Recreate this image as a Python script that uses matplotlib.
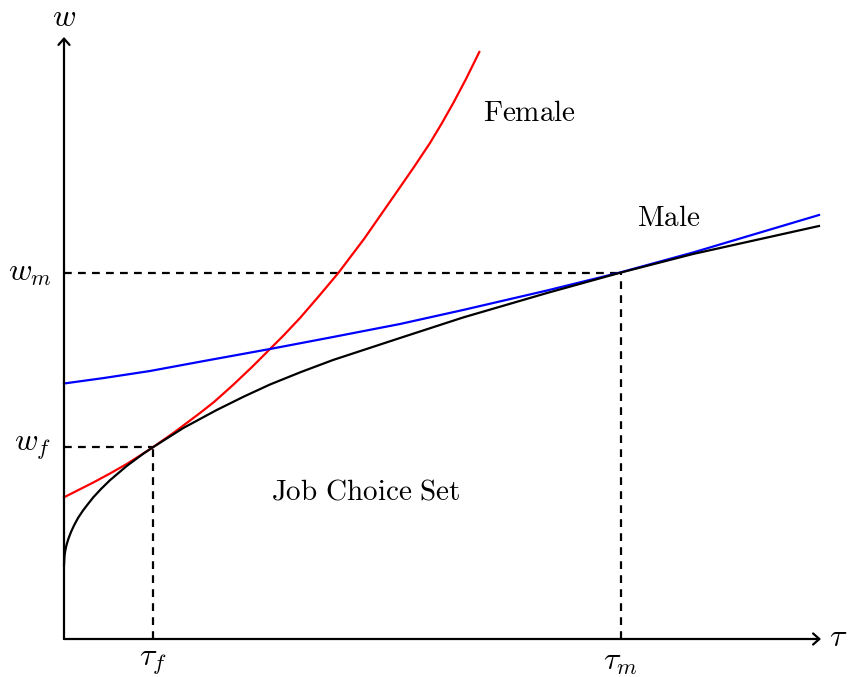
#!/usr/bin/env python3
"""Job choice set diagram: wage w against tau, female / male indifference curves."""

import matplotlib
matplotlib.use("Agg")
import matplotlib.pyplot as plt

plt.rcParams["mathtext.fontset"] = "cm"

# frontier of the job choice set (black)
choice_tau = [0, 0.005, 0.012, 0.025, 0.045, 0.07, 0.1, 0.14, 0.19, 0.24, 0.293,
              0.37, 0.46, 0.627, 0.793, 0.893, 1.193, 1.527, 1.8, 2.06, 2.37,
              2.69, 3.36, 3.99, 4.83, 5.57, 6.29, 7.55]
choice_w   = [0.74, 0.83, 0.88, 0.94, 1.005, 1.07, 1.135, 1.21, 1.285, 1.35, 1.417,
              1.50, 1.588, 1.73, 1.853, 1.92, 2.11, 2.29, 2.425, 2.545, 2.67,
              2.79, 3.01, 3.215, 3.46, 3.665, 3.85, 4.13]

# female curve (red)
female_tau = [0, 0.293, 0.46, 0.627, 0.793, 0.893, 1.1, 1.36, 1.5, 1.69, 1.88,
              2.06, 2.2, 2.36, 2.55, 2.743, 3.0, 3.327, 3.5, 3.66, 3.78, 3.893,
              4.02, 4.153]
female_w   = [1.417, 1.565, 1.655, 1.75, 1.855, 1.92, 2.065, 2.26, 2.37, 2.54, 2.72,
              2.90, 3.04, 3.21, 3.43, 3.66, 4.0, 4.47, 4.72, 4.96, 5.16, 5.36,
              5.6, 5.87]

# male curve (blue)
male_tau = [0, 0.4, 0.86, 1.4, 2.06, 2.69, 3.36, 3.99, 4.83, 5.56, 6.29, 7.55]
male_w   = [2.555, 2.61, 2.68, 2.78, 2.90, 3.02, 3.15, 3.29, 3.485, 3.665, 3.865, 4.24]

# chosen jobs
tau_f, w_f = 0.893, 1.92
tau_m, w_m = 5.57, 3.665

X_MAX, Y_MAX = 7.57, 6.02

LW = 1.6
DASH = (0, (3.5, 2.8))

fig = plt.figure(figsize=(8.49, 6.77), dpi=100)
ax = fig.add_axes([0, 0, 1, 1])
ax.set_xlim(-0.64, 7.85)
ax.set_ylim(-0.38, 6.39)
ax.axis("off")

# axes with open arrow heads
arrow = dict(arrowstyle="->,head_length=0.45,head_width=0.4", lw=LW,
             color="black", shrinkA=0, shrinkB=0)
ax.annotate("", xy=(X_MAX, 0), xytext=(0, 0), arrowprops=arrow)
ax.annotate("", xy=(0, Y_MAX), xytext=(0, 0), arrowprops=arrow)

# dashed guides
ax.plot([0, tau_f], [w_f, w_f], color="black", lw=LW, ls=DASH)
ax.plot([tau_f, tau_f], [0, w_f], color="black", lw=LW, ls=DASH)
ax.plot([0, tau_m], [w_m, w_m], color="black", lw=LW, ls=DASH)
ax.plot([tau_m, tau_m], [0, w_m], color="black", lw=LW, ls=DASH)

ax.plot(female_tau, female_w, color="#ff0000", lw=LW, solid_joinstyle="round")
ax.plot(male_tau, male_w, color="#0000ff", lw=LW, solid_joinstyle="round")
ax.plot(choice_tau, choice_w, color="black", lw=LW, solid_joinstyle="round")

FS = 21
FS_MATH = 23
ax.text(0, 6.21, r"$w$", fontsize=FS_MATH, ha="center", va="center")
ax.text(7.65, 0.02, r"$\tau$", fontsize=FS_MATH, ha="left", va="center")
ax.text(-0.12, w_m, r"$w_m$", fontsize=FS_MATH, ha="right", va="center")
ax.text(-0.13, w_f, r"$w_f$", fontsize=FS_MATH, ha="right", va="center")
ax.text(tau_f, -0.07, r"$\tau_f$", fontsize=FS_MATH, ha="center", va="top")
ax.text(tau_m, -0.07, r"$\tau_m$", fontsize=FS_MATH, ha="center", va="top")

ax.text(4.66, 5.26, r"$\mathrm{Female}$", fontsize=FS, ha="center", va="center")
ax.text(6.05, 4.21, r"$\mathrm{Male}$", fontsize=FS, ha="center", va="center")
ax.text(3.02, 1.47, r"$\mathrm{Job\ Choice\ Set}$", fontsize=FS, ha="center", va="center")

fig.savefig("out.png", dpi=100)
plt.close(fig)
